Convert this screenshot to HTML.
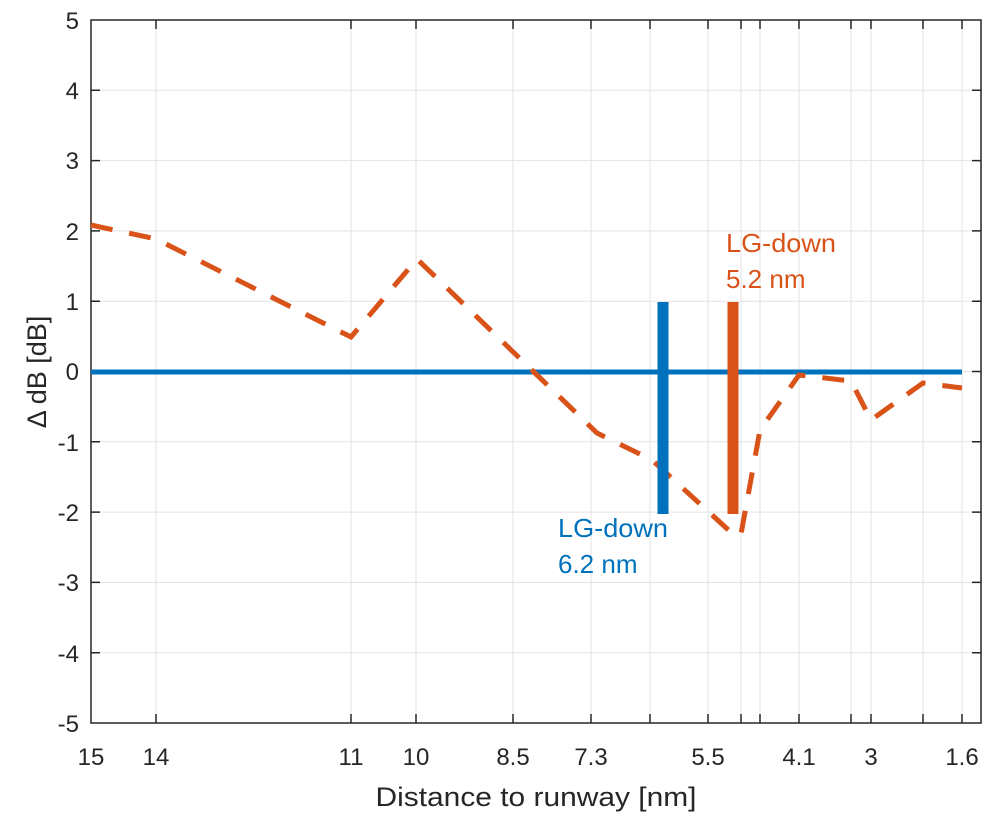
<!DOCTYPE html>
<html><head><style>body{margin:0;background:#fff}svg{display:block}text{font-family:"Liberation Sans",sans-serif}</style></head><body>
<svg width="1000" height="818" viewBox="0 0 1000 818" xmlns="http://www.w3.org/2000/svg">
<rect width="1000" height="818" fill="#fff"/>
<g stroke="#e3e3e3" stroke-width="1">
<line x1="156" y1="20" x2="156" y2="723"/><line x1="351" y1="20" x2="351" y2="723"/><line x1="416" y1="20" x2="416" y2="723"/><line x1="513" y1="20" x2="513" y2="723"/><line x1="591" y1="20" x2="591" y2="723"/><line x1="650" y1="20" x2="650" y2="723"/><line x1="708" y1="20" x2="708" y2="723"/><line x1="741" y1="20" x2="741" y2="723"/><line x1="760" y1="20" x2="760" y2="723"/><line x1="799" y1="20" x2="799" y2="723"/><line x1="851" y1="20" x2="851" y2="723"/><line x1="871" y1="20" x2="871" y2="723"/><line x1="923" y1="20" x2="923" y2="723"/><line x1="962" y1="20" x2="962" y2="723"/>
<line x1="91" y1="90.3" x2="981" y2="90.3"/><line x1="91" y1="160.6" x2="981" y2="160.6"/><line x1="91" y1="230.9" x2="981" y2="230.9"/><line x1="91" y1="301.2" x2="981" y2="301.2"/><line x1="91" y1="371.5" x2="981" y2="371.5"/><line x1="91" y1="441.8" x2="981" y2="441.8"/><line x1="91" y1="512.1" x2="981" y2="512.1"/><line x1="91" y1="582.4" x2="981" y2="582.4"/><line x1="91" y1="652.7" x2="981" y2="652.7"/>
</g>
<rect x="91" y="20" width="890" height="703" fill="none" stroke="#262626" stroke-width="1.5"/>
<g stroke="#262626" stroke-width="1.5">
<path d="M156 723v-9M351 723v-9M416 723v-9M513 723v-9M591 723v-9M650 723v-9M708 723v-9M741 723v-9M760 723v-9M799 723v-9M851 723v-9M871 723v-9M923 723v-9M962 723v-9"/>
<path d="M156 20v9M351 20v9M416 20v9M513 20v9M591 20v9M650 20v9M708 20v9M741 20v9M760 20v9M799 20v9M851 20v9M871 20v9M923 20v9M962 20v9"/>
<path d="M91 90.3h9M91 160.6h9M91 230.9h9M91 301.2h9M91 371.5h9M91 441.8h9M91 512.1h9M91 582.4h9M91 652.7h9"/>
<path d="M981 90.3h-9M981 160.6h-9M981 230.9h-9M981 301.2h-9M981 371.5h-9M981 441.8h-9M981 512.1h-9M981 582.4h-9M981 652.7h-9"/>
</g>
<g font-size="24" fill="#262626" text-anchor="end">
<text x="79" y="29">5</text><text x="79" y="99">4</text><text x="79" y="169">3</text><text x="79" y="240">2</text><text x="79" y="310">1</text><text x="79" y="380">0</text><text x="79" y="451">-1</text><text x="79" y="521">-2</text><text x="79" y="591">-3</text><text x="79" y="662">-4</text><text x="79" y="732">-5</text>
</g>
<g font-size="24" fill="#262626" text-anchor="middle">
<text x="91" y="765">15</text><text x="156" y="765">14</text><text x="351" y="765">11</text><text x="416" y="765">10</text><text x="513" y="765">8.5</text><text x="591" y="765">7.3</text><text x="708" y="765">5.5</text><text x="799" y="765">4.1</text><text x="871" y="765">3</text><text x="962" y="765">1.6</text>
<text x="536" y="806" font-size="27" textLength="321" lengthAdjust="spacingAndGlyphs">Distance to runway [nm]</text>
<text transform="translate(46,372) rotate(-90)" font-size="27">Δ dB [dB]</text>
</g>
<line x1="91" y1="372" x2="962" y2="372" stroke="#0072bd" stroke-width="5"/>
<polyline points="91,225 156,239 351,337 417,259 597,433 652,460 735,536 741,534 760,430 799,375 851,381 871,420 923,383 962,388" fill="none" stroke="#d95319" stroke-width="5" stroke-dasharray="22,17"/>
<line x1="663" y1="302" x2="663" y2="514" stroke="#0072bd" stroke-width="11"/>
<line x1="733" y1="302" x2="733" y2="514" stroke="#d95319" stroke-width="11"/>
<g font-size="26" fill="#0072bd"><text x="558" y="537" textLength="110" lengthAdjust="spacingAndGlyphs">LG-down</text><text x="558" y="573">6.2 nm</text></g>
<g font-size="26" fill="#d95319"><text x="726" y="252" textLength="110" lengthAdjust="spacingAndGlyphs">LG-down</text><text x="726" y="288">5.2 nm</text></g>
</svg>
</body></html>
